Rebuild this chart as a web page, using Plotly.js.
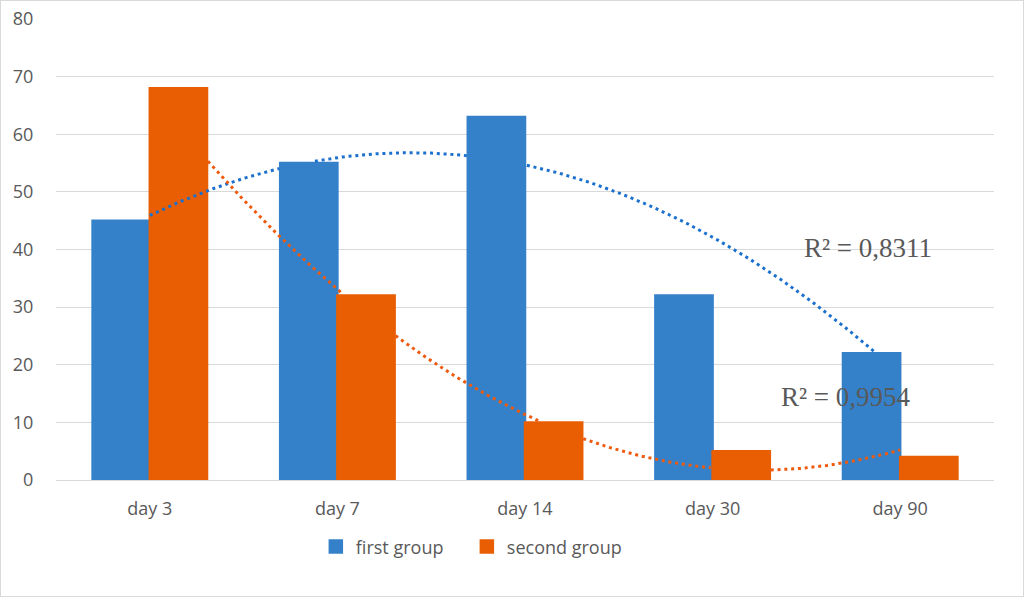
<!DOCTYPE html>
<html>
    <head>
        <meta charset="utf-8">
        <title>first group / second group</title>
        <style>
            *{
                box-sizing: border-box;
                margin: 0px;
                padding: 0px;
            }
            body{
                background: white;
            }
            .frame{
                width: 1024px;
                height: 597px;
                border: 1px solid #d9d9d9; /* тонкая рамка вокруг всей диаграммы */
            }
            #grafik{
                width: 1022px;
                height: 595px;
            }
        </style>
        <script src="https://cdn.plot.ly/plotly-3.0.1.min.js" charset="utf-8"></script>
    </head>
    <body>
        <div class="frame">
            <div id="grafik"></div>
        </div>
    </body>
    <script>
        const categories = ['day 3', 'day 7', 'day 14', 'day 30', 'day 90'];
        const firstGroup = [45, 55, 63, 32, 22];
        const secondGroup = [68, 32, 10, 5, 4];
        const yTicks = [0, 10, 20, 30, 40, 50, 60, 70, 80];

        const BLUE = 'rgb(52,129,202)';
        const ORANGE = 'rgb(233,94,2)';
        const BLUE_TREND = 'rgb(28,112,206)';
        const ORANGE_TREND = 'rgb(238,90,14)';
        const GREY_TEXT = '#595959';
        const BARGAP = 0.39;

        // полиномиальная линия тренда 2-й степени (как в Excel), x = 0..n-1
        function polyFit2(ys)
        {
            let n = ys.length;
            let s = [0, 0, 0, 0, 0];
            let b = [0, 0, 0];
            for (let i = 0; i < n; i++)
            {
                for (let k = 0; k < 5; k++) s[k] += Math.pow(i, k);
                for (let k = 0; k < 3; k++) b[k] += Math.pow(i, k) * ys[i];
            }
            let m = [
                [s[0], s[1], s[2], b[0]],
                [s[1], s[2], s[3], b[1]],
                [s[2], s[3], s[4], b[2]]
            ];
            // метод Гаусса
            for (let c = 0; c < 3; c++)
            {
                for (let r = c + 1; r < 3; r++)
                {
                    let f = m[r][c] / m[c][c];
                    for (let k = c; k < 4; k++) m[r][k] -= f * m[c][k];
                }
            }
            let coef = [0, 0, 0];
            for (let r = 2; r >= 0; r--)
            {
                let v = m[r][3];
                for (let k = r + 1; k < 3; k++) v -= m[r][k] * coef[k];
                coef[r] = v / m[r][r];
            }
            return coef;
        }

        function evalFit(coef, x)
        {
            return coef[0] + coef[1] * x + coef[2] * x * x;
        }

        function rSquared(coef, ys)
        {
            let mean = ys.reduce((a, v) => a + v, 0) / ys.length;
            let ssTot = 0, ssRes = 0;
            ys.forEach(function(v, i){
                ssTot += (v - mean) ** 2;
                ssRes += (v - evalFit(coef, i)) ** 2;
            });
            return 1 - ssRes / ssTot;
        }

        // линия тренда уходит "под" столбики своей же серии
        function trendTrace(ys, side, color)
        {
            let coef = polyFit2(ys);
            let w = (1 - BARGAP) / 2;
            let tr = {x: [], y: [], type: 'scatter', mode: 'lines', showlegend: false,
                      hoverinfo: 'skip', connectgaps: false,
                      line: {color: color, width: 3, dash: '3px,3.8px'}};
            for (let i = 0; i <= 400; i++)
            {
                let x = i / 100;
                let y = evalFit(coef, x);
                let c = Math.round(x);
                let lo = side < 0 ? c - w : c;
                let hi = side < 0 ? c : c + w;
                if (x >= lo && x <= hi && y < ys[c] + 0.3) y = null;
                tr.x.push(x);
                tr.y.push(y);
            }
            return {trace: tr, r2: rSquared(coef, ys)};
        }

        function drawPlot()
        {
            let xs = categories.map((c, i) => i);
            let bar1 = {x: xs, y: firstGroup, type: 'bar', name: 'first group',
                        marker: {color: BLUE, line: {color: BLUE, width: 2.5}}, hoverinfo: 'y'};
            let bar2 = {x: xs, y: secondGroup, type: 'bar', name: 'second group', legend: 'legend2',
                        marker: {color: ORANGE, line: {color: ORANGE, width: 2.5}}, hoverinfo: 'y'};
            let t1 = trendTrace(firstGroup, -1, BLUE_TREND);
            let t2 = trendTrace(secondGroup, 1, ORANGE_TREND);

            let fmt = v => 'R² = ' + v.toFixed(4).replace('.', ',');
            let serif = {family: 'Liberation Serif, serif', size: 27, color: GREY_TEXT};
            let legFont = {family: 'Open Sans, sans-serif', size: 18, color: GREY_TEXT};

            let layout = {
                width: 1022,
                height: 595,
                margin: {l: 55, r: 29, t: 18, b: 116},
                paper_bgcolor: 'white',
                plot_bgcolor: 'white',
                barmode: 'group',
                bargap: BARGAP,
                bargroupgap: 0,
                font: {family: 'Open Sans, sans-serif', size: 18, color: GREY_TEXT},
                xaxis: {
                    range: [-0.5, 4.5],
                    tickvals: xs,
                    ticktext: categories,
                    showgrid: false,
                    zeroline: false,
                    showline: false,
                    ticks: 'outside',
                    ticklen: 12,
                    tickcolor: 'rgba(0,0,0,0)',
                    tickfont: {family: 'Open Sans, sans-serif', size: 18, color: GREY_TEXT},
                    fixedrange: true
                },
                yaxis: {
                    range: [0, 80],
                    tickvals: yTicks,
                    showgrid: true,
                    gridcolor: '#d9d9d9',
                    gridwidth: 1,
                    zeroline: true,
                    zerolinecolor: '#d9d9d9',
                    zerolinewidth: 1,
                    showline: false,
                    ticks: 'outside',
                    ticklen: 18,
                    tickcolor: 'rgba(0,0,0,0)',
                    tickfont: {family: 'Open Sans, sans-serif', size: 18, color: GREY_TEXT},
                    fixedrange: true
                },
                // две легенды, чтобы расставить элементы как в оригинале
                legend: {
                    orientation: 'h', x: 0.277, xanchor: 'left',
                    y: -0.145, yanchor: 'middle', font: legFont
                },
                legend2: {
                    orientation: 'h', x: 0.438, xanchor: 'left',
                    y: -0.145, yanchor: 'middle', font: legFont
                },
                annotations: [
                    {x: 3.83, y: 40.3, xref: 'x', yref: 'y', text: fmt(t1.r2),
                     showarrow: false, font: serif},
                    {x: 3.71, y: 14.4, xref: 'x', yref: 'y', text: fmt(t2.r2),
                     showarrow: false, font: serif}
                ]
            };

            Plotly.newPlot('grafik', [bar1, bar2, t1.trace, t2.trace], layout, {staticPlot: true});
        }

        drawPlot();
    </script>
</html>
